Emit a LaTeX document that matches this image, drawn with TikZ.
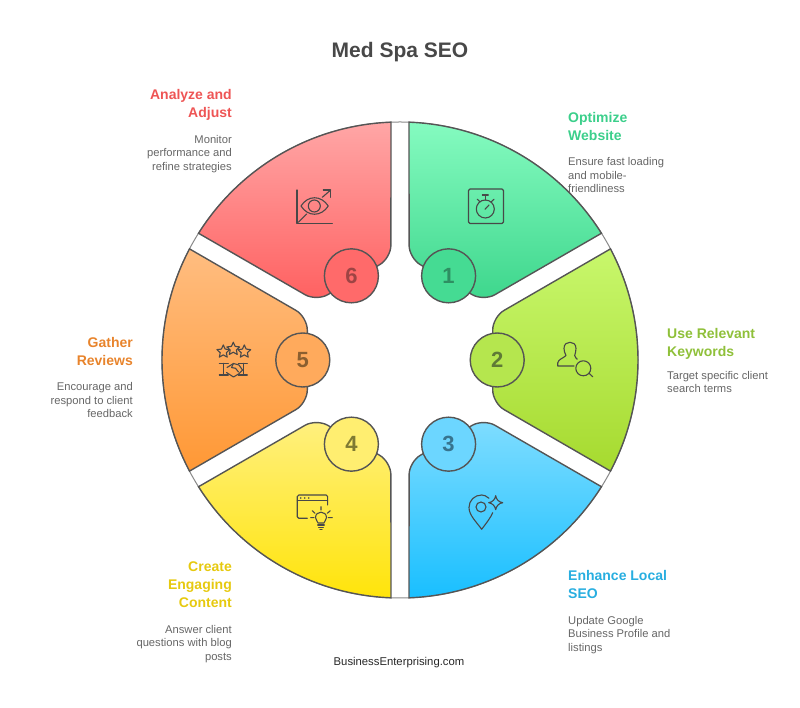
\documentclass[tikz,border=0pt]{standalone}
\usepackage{fontspec}
\setmainfont{Liberation Sans}
\usetikzlibrary{positioning, shapes.geometric}

\definecolor{edgegray}{HTML}{555555}
\definecolor{bodygray}{HTML}{666666}
\definecolor{icongray}{HTML}{484848}
% sector colours: top, bottom, disc top, disc bottom, digit, heading
\definecolor{greentop}{HTML}{85FBC0}\definecolor{greenbot}{HTML}{3DD68C}
\definecolor{greendisc}{HTML}{45DB93}\definecolor{greennum}{HTML}{2E8F62}\definecolor{greenhead}{HTML}{3CCF8B}
\definecolor{limetop}{HTML}{C8F76C}\definecolor{limebot}{HTML}{A6DA2F}
\definecolor{limedisc}{HTML}{B5E64E}\definecolor{limenum}{HTML}{5F7A36}\definecolor{limehead}{HTML}{8FC03A}
\definecolor{bluetop}{HTML}{80DDFF}\definecolor{bluebot}{HTML}{19BFFF}
\definecolor{bluedisc}{HTML}{6CD6FF}\definecolor{bluenum}{HTML}{37748F}\definecolor{bluehead}{HTML}{28AEE0}
\definecolor{yellowtop}{HTML}{FFF080}\definecolor{yellowbot}{HTML}{FFE40A}
\definecolor{yellowdisc}{HTML}{FFEE70}\definecolor{yellownum}{HTML}{7F7A33}\definecolor{yellowhead}{HTML}{E6C90F}
\definecolor{orangetop}{HTML}{FFBD80}\definecolor{orangebot}{HTML}{FF9835}
\definecolor{orangedisc}{HTML}{FFAA5C}\definecolor{orangenum}{HTML}{8B5F30}\definecolor{orangehead}{HTML}{E8842C}
\definecolor{redtop}{HTML}{FFA6A6}\definecolor{redbot}{HTML}{FF6060}
\definecolor{reddisc}{HTML}{FF6A6A}\definecolor{rednum}{HTML}{9E4444}\definecolor{redhead}{HTML}{EE5555}

\tikzset{
    segline/.style={draw=edgegray, line width=1.4pt},
    numdisc/.style={circle, segline, minimum size=54pt, inner sep=0pt,
        font=\fontsize{22}{22}\selectfont\bfseries},
    headl/.style={anchor=west, align=left, inner sep=0pt, font=\fontsize{14}{18}\selectfont\bfseries},
    headr/.style={anchor=east, align=right, inner sep=0pt, font=\fontsize{14}{18}\selectfont\bfseries},
    bodyl/.style={anchor=west, align=left, inner sep=0pt, text=bodygray, font=\fontsize{11.2}{13.5}\selectfont},
    bodyr/.style={anchor=east, align=right, inner sep=0pt, text=bodygray, font=\fontsize{11.2}{13.5}\selectfont},
    iconline/.style={draw=icongray, line width=1.1pt, line join=round, line cap=round},
    iconstar/.style={star, star points=5, star point ratio=2.1, iconline, minimum size=13.5pt, inner sep=0pt},
    iconat/.style={shift={#1}, yscale=-1},
}

\begin{document}
\begin{tikzpicture}[x=1pt, y=1pt]
    \useasboundingbox (-400,-348) rectangle (400,360);

    \node[font=\fontsize{21}{24}\selectfont\bfseries, text=icongray] (title) at (0,308) {Med Spa SEO};

    % outer ring, seen across the gaps
    \draw[draw=edgegray!70, line width=1pt] (0,0) circle (238);

    % the six sectors
    \foreach \ang/\colr in {60/green, 0/lime, -60/blue, -120/yellow, 180/orange, 120/red} {
        \path[segline, top color=\colr top, bottom color=\colr bot]
            (\ang+27.83:238) [rounded corners=13pt] -- (\ang+24.9:102.2) -- (\ang-24.9:102.2) [sharp corners]
            -- (\ang-27.83:238) arc[start angle=\ang-27.83, end angle=\ang+27.83, radius=238] -- cycle;
    }
    \foreach \ang/\colr/\n in {60/green/1, 0/lime/2, -60/blue/3, -120/yellow/4, 180/orange/5, 120/red/6} {
        \node[numdisc, fill=\colr disc, text=\colr num] (disc\n) at (\ang:97.2) {\n};
    }

    % stopwatch
    \begin{scope}[iconat={(60,180)}]
        \draw[iconline, rounded corners=1.5pt] (8.5,9) rectangle (43.5,43.5);
        \draw[iconline] (25.3,29) circle (9);
        \draw[iconline] (22.3,15) -- (28.3,15) (25.3,15) -- (25.3,20);
        \draw[iconline] (17.3,19.3) -- (20,21.7) (34,19.3) -- (31.3,21.7);
        \draw[iconline] (25,29.3) -- (29,25);
    \end{scope}

    % eye on a chart
    \begin{scope}[iconat={(-110,178)}]
        \draw[iconline] (7,8) -- (7,41.3) -- (42.3,41.3);
        \draw[iconline] (8.3,40.3) -- (16.7,32) (32.3,15.3) -- (40.7,8);
        \draw[iconline] (33.3,8) -- (40.7,8) -- (40.7,15.3);
        \draw[iconline] (11,24) .. controls (18,13) and (31,13) .. (38.3,24)
            .. controls (31,35) and (18,35) .. (11,24);
        \draw[iconline] (24.3,24) circle (6);
    \end{scope}

    % person with magnifier
    \begin{scope}[iconat={(150,25)}]
        \draw[iconline] (24,31) -- (7.7,31) -- (7.7,28) .. controls (8.5,24) and (13,23.5) .. (16,20.5)
            .. controls (14.8,18) and (14,16) .. (14,13.5) .. controls (14,9) and (17,7.3) .. (20,7.3)
            .. controls (23,7.3) and (26,9) .. (26,13.5) .. controls (26,16) and (25.3,18) .. (24.7,20.5)
            .. controls (25.2,22.3) and (26.2,23.5) .. (27.3,24.3);
        \draw[iconline] (33.3,33.3) circle (7.5);
        \draw[iconline] (39,38.3) -- (42.7,41.7);
    \end{scope}

    % stars above a handshake
    \begin{scope}[iconat={(-192,25)}]
        \node[iconstar] (starl) at (15.3,16.7) {};
        \node[iconstar] (starm) at (25.3,14) {};
        \node[iconstar] (starr) at (36.3,16.7) {};
        \draw[iconline] (11.3,28.3) -- (20.3,28.3) (15.3,28.3) -- (15.3,40) (11.3,40) -- (20.3,40);
        \draw[iconline] (30.3,28.3) -- (39.3,28.3) (35.3,28.3) -- (35.3,40) (30.3,40) -- (39.3,40);
        \draw[iconline] (19,32.5) -- (25.5,28.5) -- (31,30) -- (34.5,35) -- (31,38.7) -- (25.5,42) -- (18.5,37.5);
        \draw[iconline] (25.5,28.5) -- (23.5,32.5) -- (27.5,33.3) -- (30.5,37);
    \end{scope}

    % browser window and bulb
    \begin{scope}[iconat={(-110,-128)}]
        \draw[iconline, rounded corners=1.5pt] (17.3,30.3) -- (7.3,30.3) -- (7.3,7) -- (37.7,7) -- (37.7,17);
        \draw[iconline] (7.3,12.7) -- (37.7,12.7);
        \fill[icongray] (10.7,10) circle (0.9) (14.7,10) circle (0.9) (18.7,10) circle (0.9);
        \draw[iconline] (28,35) .. controls (27.8,32.8) and (25.5,32) .. (25.5,29.7) .. controls (25.5,26) and (28.3,24.2) .. (31,24.2)
            .. controls (33.7,24.2) and (36.5,26) .. (36.5,29.7) .. controls (36.5,32) and (34.2,32.8) .. (34,35) -- cycle;
        \draw[iconline] (27.7,37) -- (34.3,37) (28.7,39.3) -- (33.3,39.3) (30,41.5) -- (32,41.5);
        \draw[iconline] (31,18.7) -- (31,22) (22.3,22.7) -- (25,25.3) (40.3,22.7) -- (37.3,25.3)
            (20.7,29.7) -- (24,29.7) (38.3,29.7) -- (42.3,29.7);
    \end{scope}

    % map pin with sparkle
    \begin{scope}[iconat={(60,-128)}]
        \draw[iconline] (29,10.3) .. controls (26.5,8) and (24,7) .. (21.7,7)
            .. controls (14.5,7) and (9,12.5) .. (9,19.5)
            .. controls (9,27) and (16,33.5) .. (21.7,41.3)
            .. controls (26,35.5) and (30.5,30) .. (32.7,24.7);
        \draw[iconline] (21,19) circle (5);
        \draw[iconline] (35.7,7.7) .. controls (36.3,11.5) and (38.7,14) .. (42.7,14.7)
            .. controls (38.7,15.4) and (36.3,18) .. (35.7,21.7)
            .. controls (35,18) and (32.7,15.4) .. (28.7,14.7)
            .. controls (32.7,14) and (35,11.5) .. (35.7,7.7);
    \end{scope}

    % labels
    \node[headl, text=greenhead] (head1) at (168,233) {Optimize\\Website};
    \node[bodyl] (body1) at (168,184.5) {Ensure fast loading\\and mobile-\\friendliness};
    \node[headl, text=limehead] (head2) at (267,16) {Use Relevant\\Keywords};
    \node[bodyl] (body2) at (267,-22) {Target specific client\\search terms};
    \node[headl, text=bluehead] (head3) at (168,-224) {Enhance Local\\SEO};
    \node[bodyl] (body3) at (168,-275) {Update Google\\Business Profile and\\listings};
    \node[headr, text=yellowhead] (head4) at (-168,-225) {Create\\Engaging\\Content};
    \node[bodyr] (body4) at (-168,-284) {Answer client\\questions with blog\\posts};
    \node[headr, text=orangehead] (head5) at (-267,8.5) {Gather\\Reviews};
    \node[bodyr] (body5) at (-267,-40.5) {Encourage and\\respond to client\\feedback};
    \node[headr, text=redhead] (head6) at (-168,255) {Analyze and\\Adjust};
    \node[bodyr] (body6) at (-168,206) {Monitor\\performance and\\refine strategies};

    \node[font=\fontsize{11.3}{13}\selectfont, text=black!85] (footer) at (-1,-302.5) {BusinessEnterprising.com};
\end{tikzpicture}
\end{document}
